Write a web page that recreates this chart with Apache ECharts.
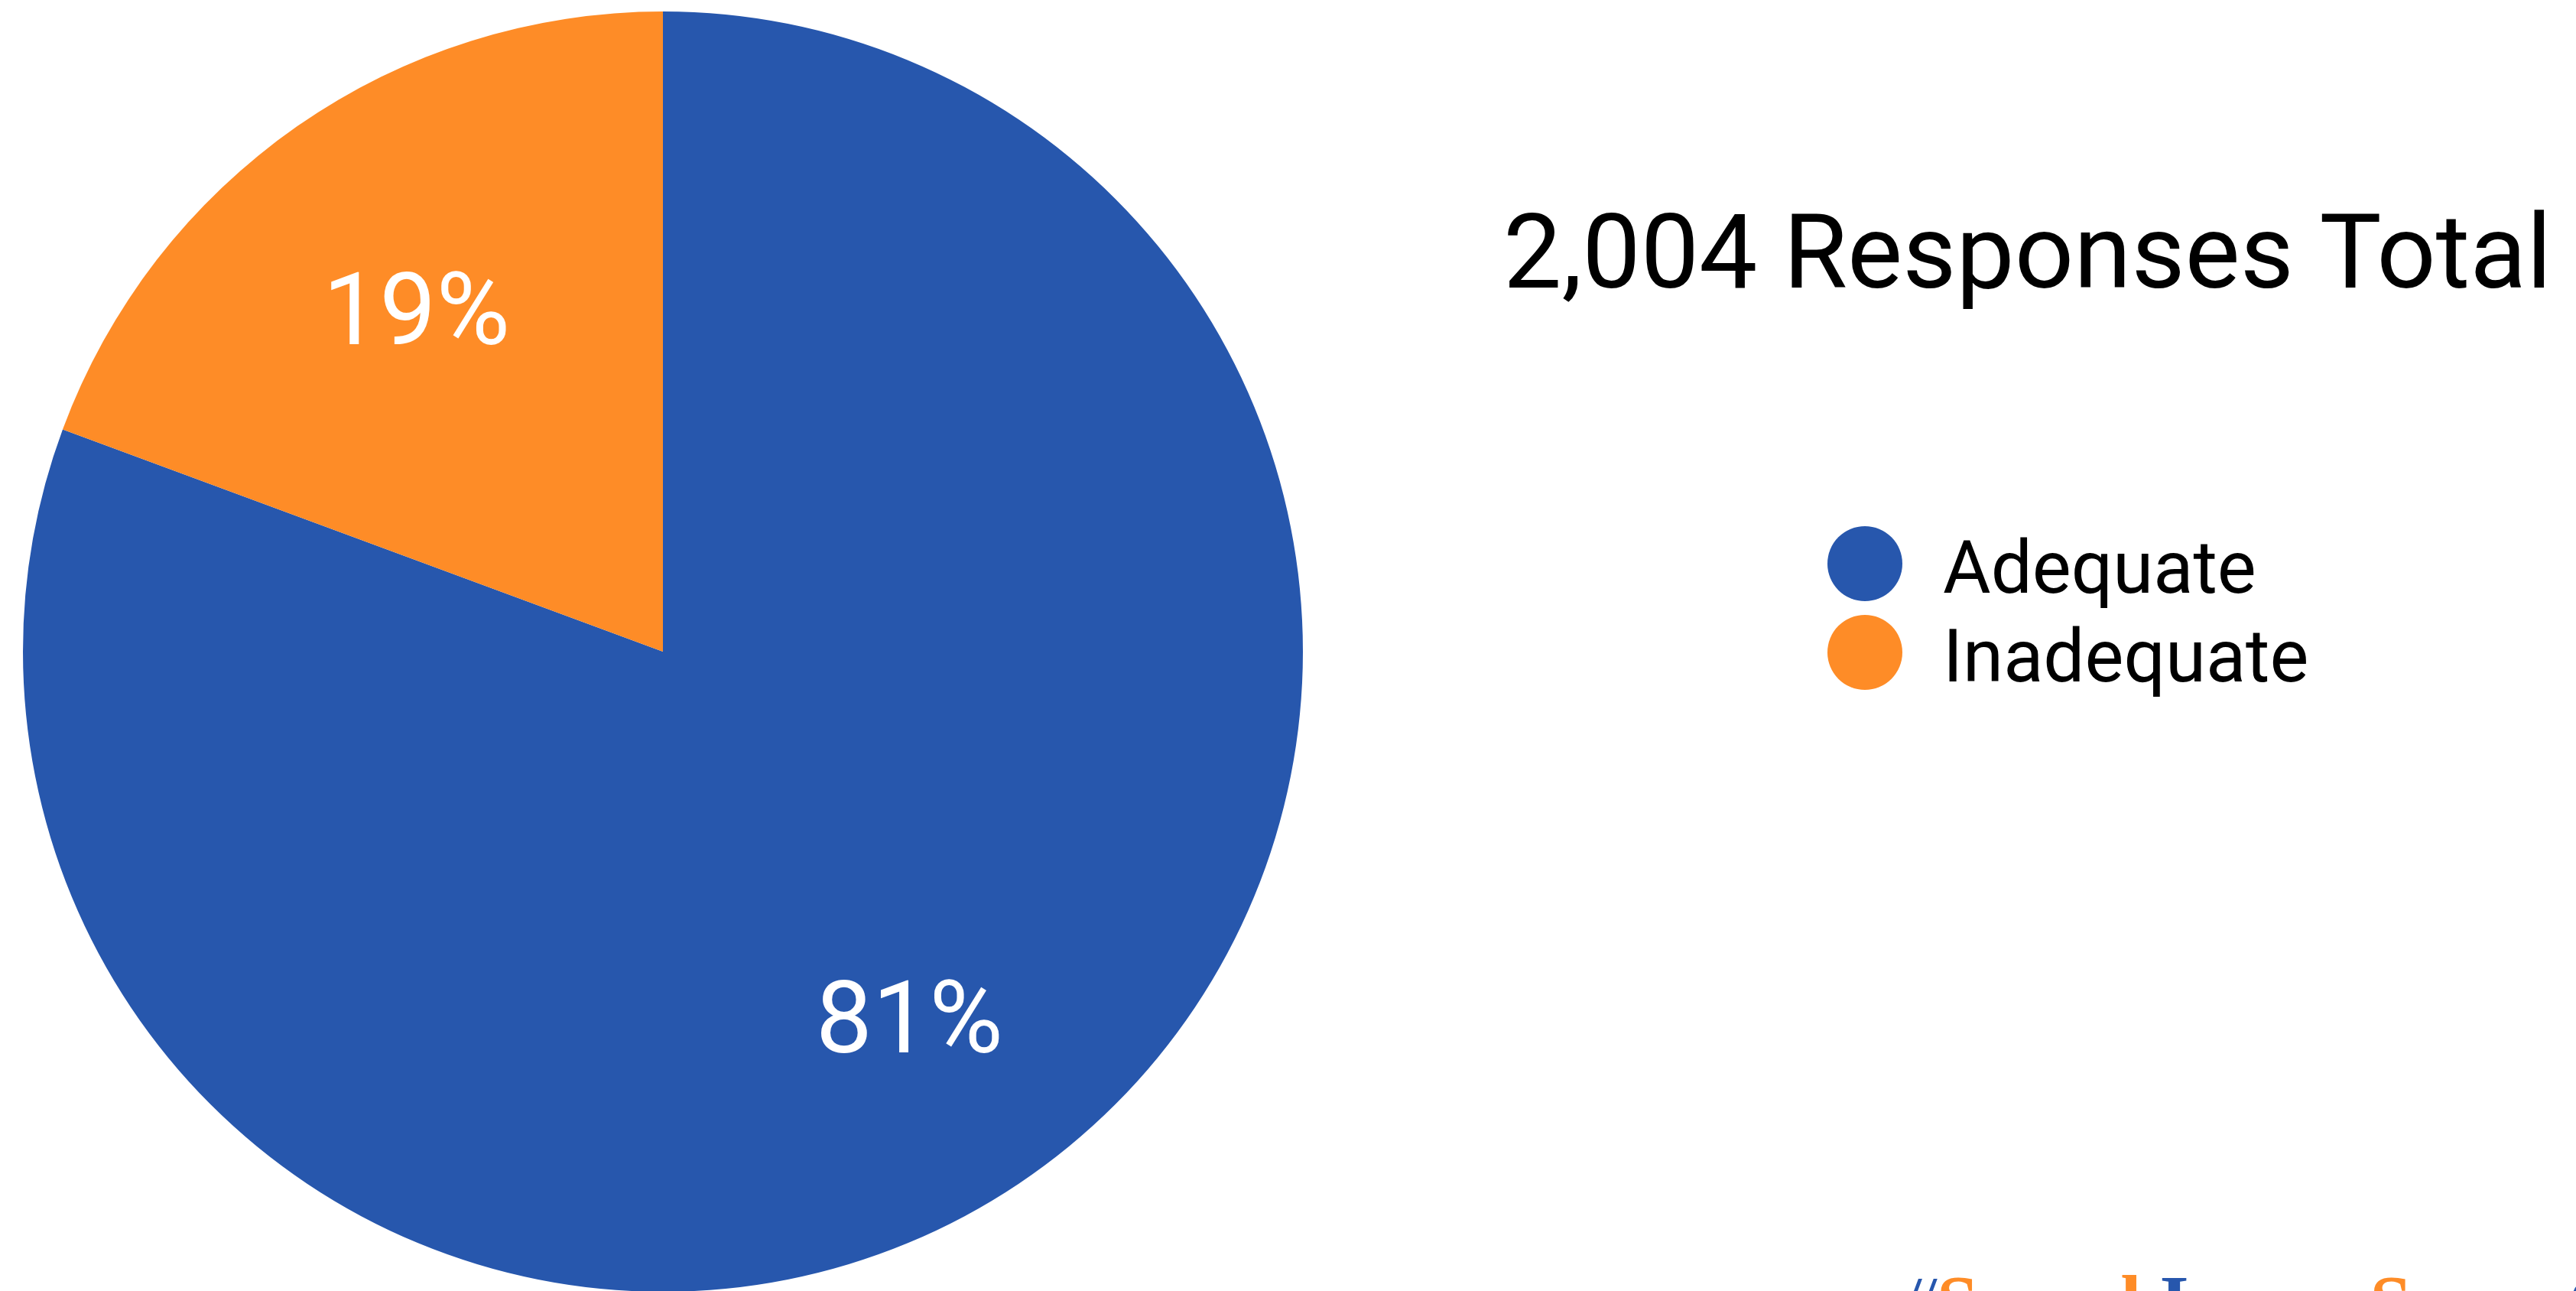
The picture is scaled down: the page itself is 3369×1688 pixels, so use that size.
<!DOCTYPE html>
<html>
<head>
<meta charset="utf-8">
<script src="https://cdn.jsdelivr.net/npm/echarts@6/dist/echarts.min.js"></script>
<style>
  html, body { margin: 0; padding: 0; background: #ffffff; }
  #chart { width: 3369px; height: 1688px; }
</style>
</head>
<body>
<div id="chart"></div>
<script>
// ---- data ----
const categories = ['Adequate', 'Inadequate'];
const responses = [1616, 388];
const totalLabel = '2,004 Responses Total';
const colors = ['#2757ad', '#fe8c27'];
const footerParts = [
  { text: '#', style: 'h' },
  { text: 'Sound', style: 'o' },
  { text: ' Issues', style: 'b' },
  { text: ' Saves', style: 'o' },
  { text: ' Costs', style: 'b' }
];

const total = responses.reduce((a, b) => a + b, 0);
const pieData = categories.map((c, i) => ({ name: c, value: responses[i], itemStyle: { color: colors[i] } }));

const chart = echarts.init(document.getElementById('chart'), null, { renderer: 'canvas' });

const center = [867, 852];
const R = 837;

chart.setOption({
  animation: false,
  backgroundColor: '#ffffff',
  title: {
    text: totalLabel,
    left: 1966,
    top: 274,
    padding: 0,
    textStyle: {
      fontFamily: 'Roboto',
      fontSize: 136,
      lineHeight: 136,
      fontWeight: 400,
      color: '#000000'
    }
  },
  legend: {
    orient: 'vertical',
    left: 2390,
    top: 688,
    padding: 0,
    icon: 'circle',
    itemWidth: 98,
    itemHeight: 98,
    itemGap: 5,
    selectedMode: false,
    data: categories.map((c, i) => ({ name: c, itemStyle: { color: colors[i] } })),
    formatter: '{t|{name}}',
    textStyle: {
      fontFamily: 'Roboto',
      fontSize: 96,
      color: '#000000',
      padding: [28, 0, 0, 48],
      rich: {
        t: { fontFamily: 'Roboto', fontSize: 96, color: '#000000' }
      }
    }
  },
  graphic: [{
    type: 'text',
    left: 2484,
    top: 1661,
    style: {
      text: footerParts.map(p => '{' + p.style + '|' + p.text + '}').join(''),
      rich: {
        h: { fontFamily: 'Liberation Serif', fontSize: 98, fontWeight: 'normal', fill: '#2757ad', fontStyle: 'italic' },
        b: { fontFamily: 'Liberation Serif', fontSize: 98, fontWeight: 'bold', fill: '#2757ad' },
        o: { fontFamily: 'Liberation Serif', fontSize: 98, fontWeight: 'bold', fill: '#fe8c27' }
      }
    }
  }],
  series: [
    {
      type: 'pie',
      center: center,
      radius: [0, R],
      startAngle: 90,
      clockwise: true,
      label: { show: false },
      labelLine: { show: false },
      emphasis: { disabled: true },
      silent: true,
      itemStyle: { borderWidth: 0 },
      data: pieData
    },
    {
      type: 'pie',
      center: center,
      radius: [Math.round(R * 0.34), R],
      startAngle: 90,
      clockwise: true,
      silent: true,
      legendHoverLink: false,
      emphasis: { disabled: true },
      itemStyle: { color: 'rgba(0,0,0,0)', borderWidth: 0 },
      labelLine: { show: false },
      labelLayout: { dy: 28 },
      label: {
        show: true,
        position: 'inside',
        fontFamily: 'Roboto',
        fontSize: 132,
        fontWeight: 400,
        color: '#ffffff',
        formatter: p => Math.round(p.value / total * 100) + '%'
      },
      data: categories.map((c, i) => ({ name: c, value: responses[i] }))
    }
  ]
});
</script>
</body>
</html>
